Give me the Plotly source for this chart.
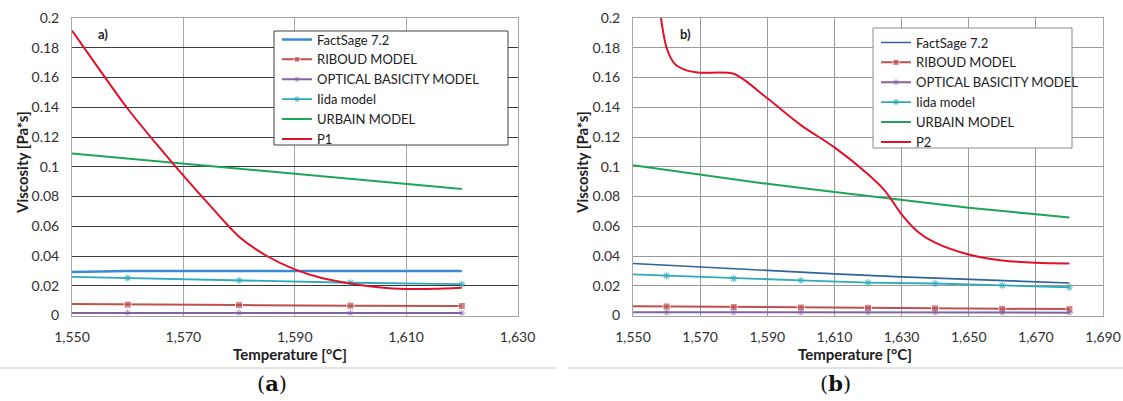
import plotly.graph_objects as go

# ---------------- data ----------------
# Panel (a)
temp_a = [1550, 1560, 1570, 1580, 1590, 1600, 1610, 1620]
factsage_a = [0.0293, 0.0299, 0.0300, 0.0300, 0.0300, 0.0300, 0.0300, 0.0300]
temp_a_m = [1550, 1560, 1580, 1600, 1620]
riboud_a = [0.0077, 0.0073, 0.0070, 0.0066, 0.0064]
optical_a = [0.0017, 0.0017, 0.0017, 0.0016, 0.0016]
iida_a = [0.0260, 0.0252, 0.0236, 0.0220, 0.0211]
urbain_a = [0.1089, 0.0850]
urbain_a_t = [1550, 1620]
p1_t = [1550, 1555, 1560, 1565, 1570, 1575, 1580, 1585, 1590, 1595, 1600, 1605, 1610, 1615, 1620]
p1 = [0.1916, 0.165, 0.139, 0.116, 0.094, 0.073, 0.053, 0.040, 0.031, 0.025, 0.0215, 0.019, 0.0178, 0.0180, 0.0187]

# Panel (b)
temp_b = [1550, 1570, 1590, 1610, 1630, 1650, 1670, 1680]
factsage_b = [0.0350, 0.0325, 0.0300, 0.0280, 0.0260, 0.0242, 0.0225, 0.0218]
urbain_b = [0.1010, 0.0945, 0.0885, 0.0830, 0.0775, 0.0725, 0.0680, 0.0658]
temp_b_m = [1550, 1560, 1580, 1600, 1620, 1640, 1660, 1680]
riboud_b = [0.0063, 0.0061, 0.0057, 0.0054, 0.0052, 0.0048, 0.0045, 0.0043]
optical_b = [0.0022, 0.0022, 0.0021, 0.0021, 0.0020, 0.0020, 0.0019, 0.0019]
iida_b = [0.0276, 0.0267, 0.0249, 0.0236, 0.0221, 0.0215, 0.0202, 0.0190]
p2_t = [1556, 1558, 1560, 1562.5, 1566, 1570, 1580, 1590, 1600, 1610, 1620, 1625, 1630, 1635, 1640, 1650, 1660, 1670, 1680]
p2 = [0.240, 0.205, 0.180, 0.169, 0.1648, 0.1632, 0.1625, 0.146, 0.128, 0.113, 0.095, 0.084, 0.068, 0.056, 0.049, 0.041, 0.037, 0.0355, 0.035]

legend_names = ["FactSage 7.2", "RIBOUD MODEL", "OPTICAL BASICITY MODEL", "Iida model", "URBAIN MODEL"]

# ---------------- styles ----------------
W, H = 1123, 401
FONT = "Lato"
C_RIB = "#c0504d"
C_OPT = "#8064a2"
C_IIDA = "#2eaab8"
C_URB = "#1fa557"
C_P = "#e2102a"

def px_x(p):
    return p / W

def px_y(p):
    return 1 - p / H

fig = go.Figure()

def add_panel(xa, ya, leg, t_line, fs, fs_color, fs_w, t_m, rib, opt, iida, urb_t, urb, pt, pv, pname):
    msz_sq = [0] + [7] * (len(t_m) - 1)
    msz_st = [0] + [6] * (len(t_m) - 1)
    fig.add_trace(go.Scatter(x=t_line, y=fs, mode="lines", name=legend_names[0],
                             line=dict(color=fs_color, width=fs_w), xaxis=xa, yaxis=ya, legend=leg))
    fig.add_trace(go.Scatter(x=t_m, y=rib, mode="lines+markers", name=legend_names[1],
                             line=dict(color=C_RIB, width=2),
                             marker=dict(symbol="square", size=msz_sq, color=C_RIB),
                             xaxis=xa, yaxis=ya, legend=leg))
    fig.add_trace(go.Scatter(x=t_m, y=opt, mode="lines+markers", name=legend_names[2],
                             line=dict(color=C_OPT, width=2),
                             marker=dict(symbol="asterisk-open", size=msz_st, line=dict(color=C_OPT, width=1)),
                             xaxis=xa, yaxis=ya, legend=leg))
    fig.add_trace(go.Scatter(x=t_m, y=iida, mode="lines+markers", name=legend_names[3],
                             line=dict(color=C_IIDA, width=1.8),
                             marker=dict(symbol="asterisk-open", size=msz_st, line=dict(color=C_IIDA, width=1.2)),
                             xaxis=xa, yaxis=ya, legend=leg))
    fig.add_trace(go.Scatter(x=urb_t, y=urb, mode="lines", name=legend_names[4],
                             line=dict(color=C_URB, width=2), xaxis=xa, yaxis=ya, legend=leg))
    fig.add_trace(go.Scatter(x=pt, y=pv, mode="lines", name=pname,
                             line=dict(color=C_P, width=2, shape="spline", smoothing=0.8),
                             xaxis=xa, yaxis=ya, legend=leg))

add_panel("x", "y", "legend", temp_a, factsage_a, "#3a8bd2", 2.5, temp_a_m, riboud_a, optical_a, iida_a,
          urbain_a_t, urbain_a, p1_t, p1, "P1")
add_panel("x2", "y2", "legend2", temp_b, factsage_b, "#2f6496", 1.6, temp_b_m, riboud_b, optical_b, iida_b,
          temp_b, urbain_b, p2_t, p2, "P2")

tickfont = dict(family=FONT, size=14, color="#303030")

def xaxis(dom, rng, gridc):
    return dict(domain=dom, range=rng, dtick=20, tick0=1550, tickformat=",d", showgrid=True,
                gridcolor=gridc, gridwidth=1, showline=True, linecolor="#a6a6a6", linewidth=1,
                mirror=True, ticks="", tickfont=tickfont, zeroline=False, fixedrange=True,
                automargin=False, ticklabelstandoff=9)

def yaxis(dom, anchor, gridc):
    return dict(domain=dom, range=[0, 0.2], dtick=0.02, tick0=0, showgrid=True, gridcolor=gridc,
                gridwidth=1, showline=True, linecolor="#a6a6a6", linewidth=1, mirror=True, ticks="",
                tickfont=tickfont, zeroline=False, anchor=anchor, fixedrange=True, automargin=False,
                ticklabelstandoff=9)

ydom = [px_y(315.5), px_y(18)]
legfont = dict(family=FONT, size=13, color="#202020")

fig.update_layout(
    template="none",
    width=W, height=H, margin=dict(l=0, r=0, t=0, b=0, autoexpand=False),
    paper_bgcolor="white", plot_bgcolor="white",
    xaxis=xaxis([px_x(72), px_x(517.5)], [1550, 1630], "#a6a6a6"),
    yaxis=yaxis(ydom, "x", "#3a3a3a"),
    xaxis2=xaxis([px_x(633), px_x(1103)], [1550, 1690], "#9a9a9a"),
    yaxis2=yaxis(ydom, "x2", "#9a9a9a"),
    legend=dict(x=px_x(277), y=px_y(24.5), xanchor="left", yanchor="top", bgcolor="rgba(0,0,0,0)",
                borderwidth=0, font=legfont, itemwidth=30, tracegroupgap=0),
    legend2=dict(x=px_x(876), y=px_y(27.5), xanchor="left", yanchor="top", bgcolor="rgba(0,0,0,0)",
                 borderwidth=0, font=legfont, itemwidth=30, tracegroupgap=0),
    showlegend=True,
)

# legend frames (as in the source chart, wider than their content)
fig.add_shape(type="rect", xref="paper", yref="paper", layer="above",
              x0=px_x(274), x1=px_x(508), y0=px_y(145), y1=px_y(31),
              fillcolor="white", line=dict(color="#404040", width=1))
fig.add_shape(type="rect", xref="paper", yref="paper", layer="above",
              x0=px_x(873), x1=px_x(1072), y0=px_y(148), y1=px_y(28),
              fillcolor="white", line=dict(color="#8a8a8a", width=1))

ann = []
bold = dict(family=FONT, size=15, color="#202020")
for cx in (290, 855):
    ann.append(dict(text="<b>Temperature [°C]</b>", x=px_x(cx), y=px_y(354), font=bold))
for cx in (22, 582):
    ann.append(dict(text="<b>Viscosity [Pa*s]</b>", x=px_x(cx), y=px_y(163), textangle=-90, font=bold))
lab = dict(family=FONT, size=13, color="#202020")
ann.append(dict(text="<b>a)</b>", x=px_x(103), y=px_y(34), font=lab))
ann.append(dict(text="<b>b)</b>", x=px_x(685), y=px_y(34), font=lab))
serif = dict(family="DejaVu Serif", size=21, color="#111111")
ann.append(dict(text="(<b>a</b>)", x=px_x(272), y=px_y(383), font=serif))
ann.append(dict(text="(<b>b</b>)", x=px_x(835), y=px_y(383), font=serif))
for a in ann:
    a.update(xref="paper", yref="paper", showarrow=False, xanchor="center", yanchor="middle")
fig.update_layout(annotations=ann)

fig.add_shape(type="line", xref="paper", yref="paper", x0=0, x1=px_x(556), y0=px_y(368), y1=px_y(368),
              line=dict(color="#c8c8c8", width=1))
fig.add_shape(type="line", xref="paper", yref="paper", x0=px_x(568), x1=1, y0=px_y(368), y1=px_y(368),
              line=dict(color="#c8c8c8", width=1))

fig.write_html("out.html", config={"displayModeBar": False},
               post_script="document.body.style.margin='0px';document.body.style.overflow='hidden';")
